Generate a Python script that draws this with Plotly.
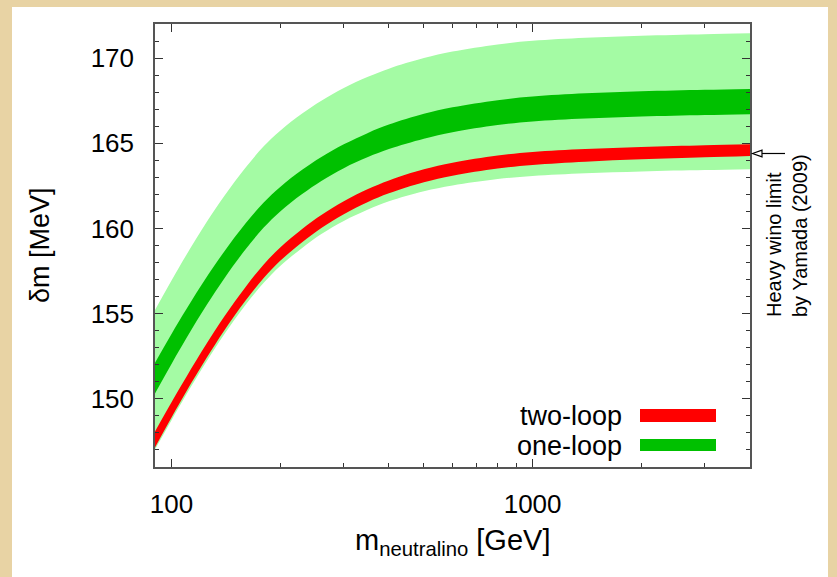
import numpy as np
import plotly.graph_objects as go

# ---- data ----
mass = [90, 100, 110, 125, 140, 160, 180, 200, 230, 260, 300, 350, 400, 500, 600, 800,
        1000, 1400, 2000, 3000, 4000]

# two-loop band (red): centre and half-width [MeV]
two_loop_mid = [147.62, 149.35, 150.87, 152.81, 154.42, 156.14, 157.49, 158.49, 159.58, 160.41,
                161.22, 161.93, 162.44, 163.09, 163.48, 163.90, 164.11, 164.29, 164.42, 164.53, 164.60]
two_loop_hw = [0.47, 0.45, 0.43, 0.42, 0.41, 0.40, 0.40, 0.39, 0.39, 0.38, 0.38, 0.38, 0.38, 0.38,
               0.38, 0.38, 0.38, 0.37, 0.36, 0.35, 0.34]

# one-loop band (dark green): offset of its centre above the two-loop centre, and half-width
one_loop_offset = [3.60, 3.58, 3.55, 3.50, 3.44, 3.37, 3.30, 3.23, 3.15, 3.08, 3.02, 2.97, 2.94,
                   2.91, 2.90, 2.90, 2.90, 2.90, 2.89, 2.87, 2.85]
one_loop_hw = [0.90, 0.88, 0.85, 0.82, 0.79, 0.76, 0.74, 0.72, 0.71, 0.70, 0.70, 0.71, 0.72, 0.73,
               0.73, 0.73, 0.73, 0.74, 0.74, 0.74, 0.74]

# light-green uncertainty band: top above one-loop centre, bottom below two-loop band bottom
light_top_margin = [4.00, 4.02, 4.04, 4.05, 4.05, 4.04, 4.03, 4.02, 4.01, 4.00, 4.00, 4.00, 4.00,
                    4.00, 4.00, 4.00, 4.00, 4.00, 4.00, 4.00, 4.00]
light_bot_margin = [0.12, 0.15, 0.17, 0.20, 0.22, 0.25, 0.28, 0.30, 0.33, 0.36, 0.40, 0.44, 0.47,
                    0.53, 0.58, 0.62, 0.65, 0.68, 0.71, 0.75, 0.78]

x_tickvals = [100, 1000]
x_ticktext = ["100", "1000"]
x_minor = [200, 300, 400, 500, 600, 700, 800, 900, 2000, 3000]
y_tickvals = [150, 155, 160, 165, 170]

legend_labels = ["two-loop", "one-loop"]
yamada_limit = 164.4

red_mid = np.array(two_loop_mid)
red_lo = red_mid - np.array(two_loop_hw)
red_hi = red_mid + np.array(two_loop_hw)
dark_mid = red_mid + np.array(one_loop_offset)
dark_lo = dark_mid - np.array(one_loop_hw)
dark_hi = dark_mid + np.array(one_loop_hw)
light_hi = dark_mid + np.array(light_top_margin)
light_lo = red_lo - np.array(light_bot_margin)

LIGHT = "#a4fba4"
DARK = "#00c000"
RED = "#ff0000"
FONT = "Liberation Sans, Arial, sans-serif"

fig = go.Figure()

def band(lo, hi, color):
    fig.add_trace(go.Scatter(x=mass, y=lo, mode="lines", line=dict(width=0, shape="spline", color=color),
                             showlegend=False, hoverinfo="skip"))
    fig.add_trace(go.Scatter(x=mass, y=hi, mode="lines", line=dict(width=0, shape="spline", color=color),
                             fill="tonexty", fillcolor=color, showlegend=False, hoverinfo="skip"))

band(light_lo, light_hi, LIGHT)
band(dark_lo, dark_hi, DARK)
band(red_lo, red_hi, RED)

# plot area: x 155..750, y 24..467
L, R, T, B = 155, 750, 24, 467
W, H = R - L, B - T
def xp(px):
    return (px - L) / W
def yp(py):
    return (B - py) / H

shapes = []
# white panel over the parchment background
shapes.append(dict(type="rect", xref="paper", yref="paper", x0=xp(12), x1=xp(828), y0=yp(590), y1=yp(7),
                   fillcolor="white", line=dict(width=0), layer="below"))
# legend swatches
shapes.append(dict(type="rect", xref="paper", yref="paper", x0=xp(640), x1=xp(716), y0=yp(422), y1=yp(409),
                   fillcolor=RED, line=dict(width=0)))
shapes.append(dict(type="rect", xref="paper", yref="paper", x0=xp(640), x1=xp(716), y0=yp(451), y1=yp(439),
                   fillcolor=DARK, line=dict(width=0)))
# arrow to the heavy wino limit
ay = B - (yamada_limit - 146) / 26 * H
shapes.append(dict(type="line", xref="paper", yref="paper", x0=xp(762), x1=xp(785), y0=yp(ay), y1=yp(ay),
                   line=dict(color="black", width=1.2)))
shapes.append(dict(type="path", xref="paper", yref="paper",
                   path=f"M {xp(752.5)} {yp(ay)} L {xp(762)} {yp(ay-3.4)} L {xp(762)} {yp(ay+3.4)} Z",
                   fillcolor="white", line=dict(color="black", width=1.2)))

annotations = [
    dict(text="m<sub>neutralino</sub> [GeV]", xref="paper", yref="paper", x=xp(452), y=yp(542),
         showarrow=False, font=dict(size=29, family=FONT, color="black"), xanchor="center", yanchor="middle"),
    dict(text="δm [MeV]", xref="paper", yref="paper", x=xp(40), y=yp(245), textangle=-90,
         showarrow=False, font=dict(size=27, family=FONT, color="black"), xanchor="center", yanchor="middle"),
    dict(text="Heavy wino limit<br>by Yamada (2009)", xref="paper", yref="paper", x=xp(787), y=yp(236),
         textangle=-90, align="left", showarrow=False, font=dict(size=20, family=FONT, color="black"),
         xanchor="center", yanchor="middle"),
    dict(text=legend_labels[0], xref="paper", yref="paper", x=xp(624), y=yp(416), showarrow=False,
         font=dict(size=27, family=FONT, color="black"), xanchor="right", yanchor="middle"),
    dict(text=legend_labels[1], xref="paper", yref="paper", x=xp(624), y=yp(446), showarrow=False,
         font=dict(size=27, family=FONT, color="black"), xanchor="right", yanchor="middle"),
]

axis_common = dict(showline=True, linecolor="#555555", linewidth=1.5, mirror="ticks",
                   ticks="inside", ticklen=8, tickwidth=1, tickcolor="#333333",
                   showgrid=False, zeroline=False,
                   tickfont=dict(size=26, family=FONT, color="black"))

fig.update_xaxes(type="log", range=[np.log10(90), np.log10(4000)], tickvals=x_tickvals, ticktext=x_ticktext,
                 minor=dict(tickvals=x_minor, ticks="inside", ticklen=4, tickcolor="#333333", showgrid=False),
                 ticklabelstandoff=13, **axis_common)
fig.update_yaxes(range=[146, 172], tickvals=y_tickvals,
                 minor=dict(dtick=1, ticks="inside", ticklen=4, tickcolor="#333333", showgrid=False),
                 ticklabelstandoff=14, **axis_common)

fig.update_layout(
    width=837, height=577,
    margin=dict(l=L, r=837 - R, t=T, b=577 - B, autoexpand=False),
    paper_bgcolor="#e8d3a4", plot_bgcolor="white",
    shapes=shapes, annotations=annotations, showlegend=False,
)

fig.write_html("out.html")
